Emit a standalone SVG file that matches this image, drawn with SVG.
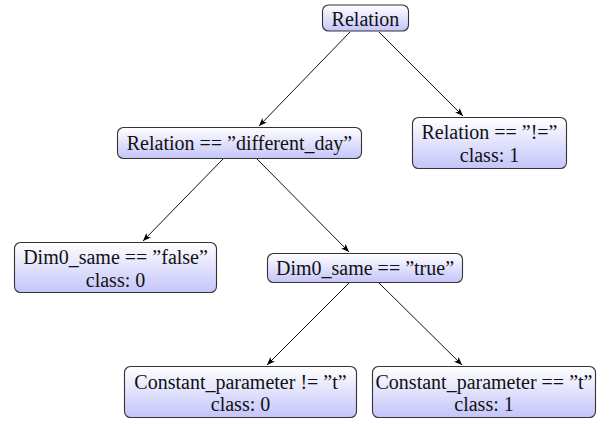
<svg xmlns="http://www.w3.org/2000/svg" width="613" height="424" viewBox="0 0 613 424">
<defs>
<linearGradient id="g" x1="0" y1="0" x2="0" y2="1">
<stop offset="0" stop-color="#ffffff"/>
<stop offset="1" stop-color="#c4c4fa"/>
</linearGradient>
<marker id="ah" viewBox="0 0 10 10" refX="10" refY="5" markerWidth="8" markerHeight="8" markerUnits="userSpaceOnUse" orient="auto">
<path d="M0,1 L10,5 L0,9 L2.5,5 z" fill="#000"/>
</marker>
</defs>
<style>
.box{fill:url(#g);stroke:#333;stroke-width:1.1}
text{font-family:"Liberation Serif","Times New Roman",Times,"DejaVu Serif","Noto Serif",serif;font-size:20px;fill:#111;text-anchor:middle}
.e{stroke:#111;stroke-width:1;fill:none;marker-end:url(#ah)}
</style>
<rect width="613" height="424" fill="#fff"/>
<g id="connectors">
<line class="e" x1="350" y1="32" x2="259" y2="126"/>
<line class="e" x1="379" y1="32" x2="463" y2="116"/>
<line class="e" x1="223" y1="159" x2="143" y2="241"/>
<line class="e" x1="257" y1="159" x2="349" y2="252"/>
<line class="e" x1="349" y1="283" x2="267" y2="365"/>
<line class="e" x1="379" y1="283" x2="462" y2="365"/>
</g>
<g id="n_relation">
<rect class="box" x="322.5" y="5" width="86" height="26" rx="6"/>
<text x="365.5" y="25.5">Relation</text>
</g>
<g id="n_diff">
<rect class="box" x="117.5" y="127.5" width="244" height="31" rx="6"/>
<text x="239.5" y="150">Relation == ”different_day”</text>
</g>
<g id="n_ne">
<rect class="box" x="412.5" y="117.5" width="154" height="51" rx="6"/>
<text x="489.5" y="139">Relation == ”!=”</text>
<text x="489.5" y="162">class: 1</text>
</g>
<g id="n_false">
<rect class="box" x="14.5" y="242.5" width="202" height="50" rx="6"/>
<text x="115.5" y="264">Dim0_same == ”false”</text>
<text x="115.5" y="287">class: 0</text>
</g>
<g id="n_true">
<rect class="box" x="267.5" y="253.5" width="195" height="29" rx="6"/>
<text x="365" y="275">Dim0_same == ”true”</text>
</g>
<g id="n_cne">
<rect class="box" x="124.5" y="366.5" width="232" height="51" rx="6"/>
<text x="240.5" y="388.5">Constant_parameter != ”t”</text>
<text x="240.5" y="410.5">class: 0</text>
</g>
<g id="n_ceq">
<rect class="box" x="372.5" y="366.5" width="223" height="51" rx="6"/>
<text x="484" y="388.5">Constant_parameter == ”t”</text>
<text x="484" y="410.5">class: 1</text>
</g>
</svg>
